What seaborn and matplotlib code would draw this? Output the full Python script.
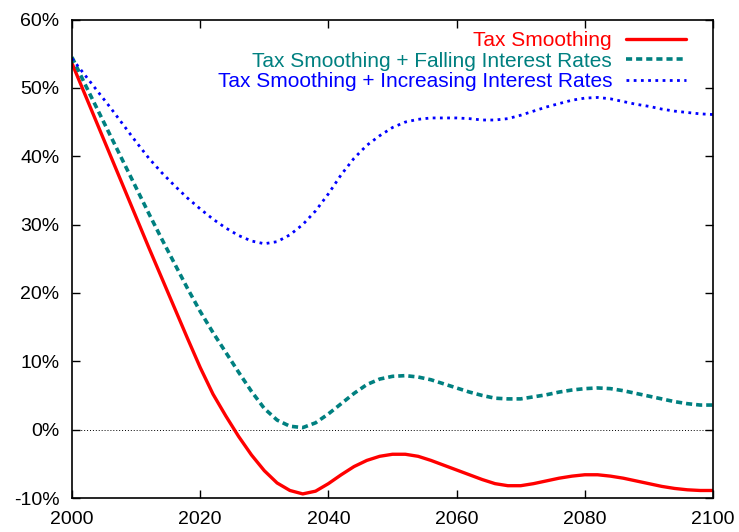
import matplotlib
matplotlib.use("Agg")
import matplotlib.pyplot as plt
import seaborn as sns
from matplotlib.ticker import FuncFormatter, MultipleLocator

years = list(range(2000, 2101, 2))

# Tax Smoothing (percent)
smoothing = [53.6, 49.1, 44.6, 40.1, 35.6, 31.1, 26.6, 22.2, 17.8, 13.4,
             9.1, 5.2, 2.0, -1.0, -3.7, -6.0, -7.8, -8.9, -9.4, -9.0,
             -7.9, -6.6, -5.4, -4.5, -3.9, -3.6, -3.6, -3.9, -4.5, -5.2,
             -5.9, -6.6, -7.3, -7.9, -8.2, -8.2, -7.9, -7.5, -7.1, -6.8,
             -6.6, -6.6, -6.8, -7.1, -7.5, -7.9, -8.3, -8.6, -8.8, -8.9,
             -8.9]

# Tax Smoothing + Falling Interest Rates
falling = [54.5, 50.6, 46.8, 43.0, 39.2, 35.4, 31.6, 27.9, 24.3, 20.7,
           17.3, 14.2, 11.3, 8.4, 5.6, 3.1, 1.4, 0.5, 0.3, 1.0,
           2.3, 3.8, 5.3, 6.6, 7.4, 7.8, 7.9, 7.7, 7.3, 6.7,
           6.1, 5.5, 5.0, 4.6, 4.5, 4.5, 4.8, 5.1, 5.5, 5.8,
           6.0, 6.1, 6.0, 5.7, 5.3, 4.9, 4.5, 4.1, 3.8, 3.6,
           3.6]

# Tax Smoothing + Increasing Interest Rates
increasing = [54.3, 51.9, 49.5, 47.1, 44.6, 42.1, 39.7, 37.6, 35.7, 33.9,
              32.3, 30.8, 29.5, 28.4, 27.6, 27.2, 27.5, 28.5, 30.0, 32.0,
              34.5, 37.3, 39.7, 41.6, 43.0, 44.2, 45.0, 45.4, 45.6, 45.6,
              45.6, 45.5, 45.3, 45.3, 45.5, 46.0, 46.6, 47.2, 47.7, 48.2,
              48.5, 48.6, 48.4, 48.0, 47.6, 47.3, 46.9, 46.6, 46.4, 46.2,
              46.1]

sns.set_theme(style="ticks")
plt.rcParams["font.family"] = ["Liberation Sans", "DejaVu Sans"]

fig = plt.figure(figsize=(7.39, 5.32), dpi=100)
ax = fig.add_axes([0.0974, 0.0639, 0.8674, 0.8994])

ax.axhline(0, color="black", lw=0.7, linestyle=(0, (1, 2)), zorder=1)

sns.lineplot(x=years, y=smoothing, ax=ax, color="#ff0000", lw=2.4,
             label="Tax Smoothing")
sns.lineplot(x=years, y=falling, ax=ax, color="#008080", lw=2.6,
             linestyle=(0, (1.7, 1.1)),
             label="Tax Smoothing + Falling Interest Rates")
sns.lineplot(x=years, y=increasing, ax=ax, color="#0000ff", lw=2.0,
             linestyle=(0, (1.0, 1.6)),
             label="Tax Smoothing + Increasing Interest Rates")

ax.set_xlim(2000, 2100)
ax.set_ylim(-10, 60)
ax.xaxis.set_major_locator(MultipleLocator(20))
ax.yaxis.set_major_locator(MultipleLocator(10))
ax.yaxis.set_major_formatter(FuncFormatter(lambda v, p: f"{v:.0f}%"))

ax.tick_params(direction="in", length=6, width=1.0, labelsize=14,
               top=True, right=True, color="black", labelcolor="black")
ax.tick_params(axis="y", pad=9)
ax.tick_params(axis="x", pad=9)
for s in ax.spines.values():
    s.set_linewidth(1.2)
    s.set_color("black")

leg = ax.legend(loc="upper right", bbox_to_anchor=(0.958, 0.975),
                frameon=False, markerfirst=False, labelcolor="linecolor",
                fontsize=15, handlelength=2.9, handletextpad=0.65,
                labelspacing=0.06, borderpad=0, borderaxespad=0)

fig.savefig("out.png", dpi=100)
